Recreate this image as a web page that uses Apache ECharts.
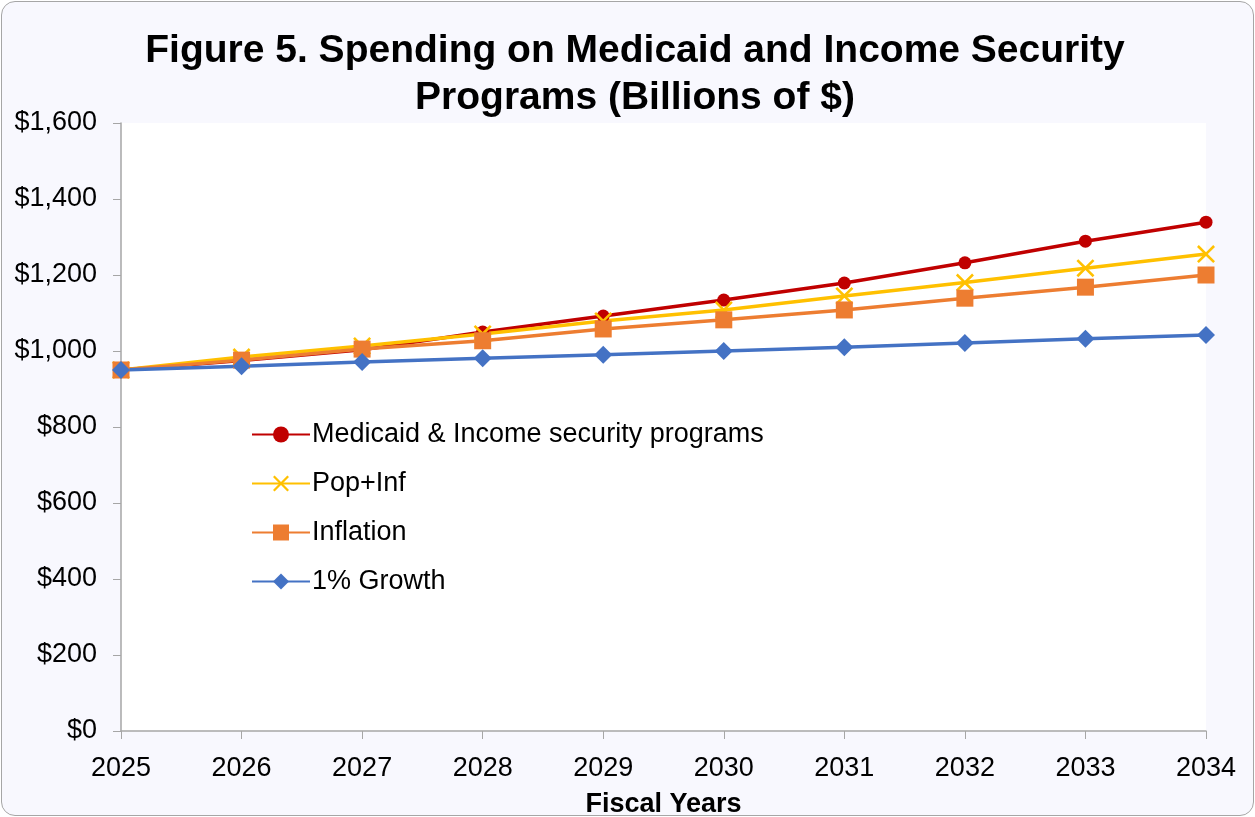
<!DOCTYPE html>
<html>
<head>
<meta charset="utf-8">
<script src="https://cdn.jsdelivr.net/npm/echarts@6/dist/echarts.min.js"></script>
<style>
html,body{margin:0;padding:0;background:#ffffff;}
#wrap{position:absolute;left:1px;top:1px;width:1251px;height:813px;border:1px solid #a6a6a6;border-radius:14px;background:#f8f8fe;overflow:hidden;}
#chart{width:1255px;height:817px;position:absolute;left:-2px;top:-2px;}
</style>
</head>
<body>
<div id="wrap"><div id="chart"></div></div>
<script>
const years = ['2025','2026','2027','2028','2029','2030','2031','2032','2033','2034'];
const medicaid = [950, 975, 1003, 1050, 1092, 1134, 1179, 1232, 1289, 1339];
const popInf = [950, 984, 1013, 1045, 1079, 1108, 1145, 1180, 1218, 1255];
const inflation = [950, 976, 1005, 1027, 1058, 1082, 1108, 1139, 1168, 1200];
const growth1 = [950, 960, 971, 981, 990, 1000, 1010, 1021, 1032, 1042];
const seriesNames = ['Medicaid & Income security programs', 'Pop+Inf', 'Inflation', '1% Growth'];

const xSym = 'path://M0,1 L1,0 L5,4 L9,0 L10,1 L6,5 L10,9 L9,10 L5,6 L1,10 L0,9 L4,5 Z';
const font = 'Liberation Sans, Arial, sans-serif';

const chart = echarts.init(document.getElementById('chart'));
chart.setOption({
  backgroundColor: 'transparent',
  animation: false,
  title: {
    text: 'Figure 5. Spending on Medicaid and Income Security\nPrograms (Billions of $)',
    left: 630, top: 23, textAlign: 'center',
    textStyle: {fontFamily: font, fontSize: 39, fontWeight: 'bold', color: '#000', lineHeight: 47}
  },
  grid: {left: 121, right: 49, top: 123, bottom: 86, show: true, backgroundColor: '#ffffff', borderWidth: 0,
    containLabel: false, outerBoundsMode: 'none'},
  legend: {
    orient: 'vertical', left: 246, top: 416, itemGap: 22, itemWidth: 58, itemHeight: 20,
    textStyle: {fontFamily: font, fontSize: 27, color: '#000', padding: [0, 0, 0, -3]},
    data: seriesNames
  },
  xAxis: {
    type: 'category', data: years, boundaryGap: false,
    name: 'Fiscal Years', nameLocation: 'middle', nameGap: 60,
    nameTextStyle: {fontFamily: font, fontSize: 27, fontWeight: 'bold', color: '#000'},
    axisLine: {lineStyle: {color: '#a6a6a6', width: 1.5}},
    axisTick: {show: true, alignWithLabel: true, length: 8, lineStyle: {color: '#a6a6a6'}},
    axisLabel: {fontFamily: font, fontSize: 27, color: '#000', margin: 24},
    splitLine: {show: false}
  },
  yAxis: {
    type: 'value', min: 0, max: 1600, interval: 200,
    axisLine: {show: true, lineStyle: {color: '#a6a6a6', width: 1.5}},
    axisTick: {show: true, length: 8, lineStyle: {color: '#a6a6a6'}},
    axisLabel: {fontFamily: font, fontSize: 27, color: '#000', margin: 24,
      formatter: v => '$' + v.toLocaleString('en-US')},
    splitLine: {show: false}
  },
  series: [
    {name: seriesNames[0], type: 'line', data: medicaid, symbol: 'circle', symbolSize: 13,
     lineStyle: {color: '#c00000', width: 3.5}, itemStyle: {color: '#c00000'}},
    {name: seriesNames[1], type: 'line', data: popInf, symbol: xSym, symbolSize: 18,
     lineStyle: {color: '#ffc000', width: 3.5}, itemStyle: {color: '#ffc000'}},
    {name: seriesNames[2], type: 'line', data: inflation, symbol: 'rect', symbolSize: 17,
     lineStyle: {color: '#ed7d31', width: 3.5}, itemStyle: {color: '#ed7d31'}},
    {name: seriesNames[3], type: 'line', data: growth1, symbol: 'diamond', symbolSize: 18,
     lineStyle: {color: '#4472c4', width: 3.5}, itemStyle: {color: '#4472c4'}}
  ]
});
</script>
</body>
</html>
